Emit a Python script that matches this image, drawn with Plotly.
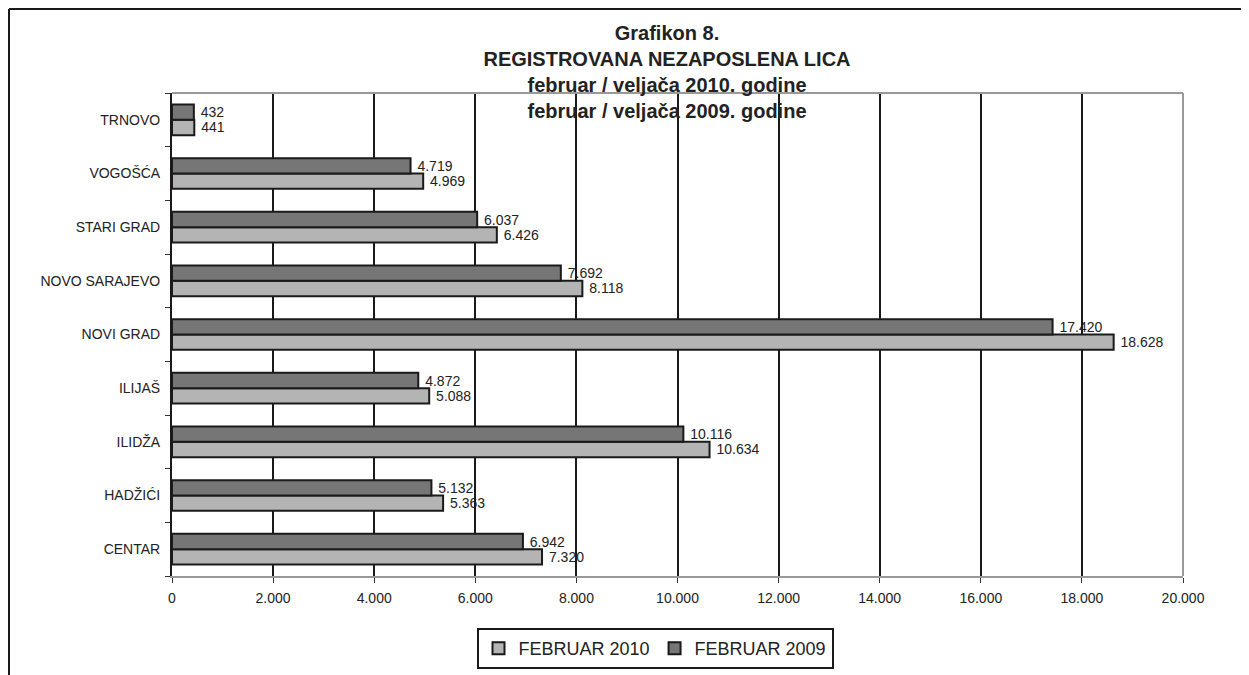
import plotly.graph_objects as go

categories = ["CENTAR", "HADŽIĆI", "ILIDŽA", "ILIJAŠ", "NOVI GRAD",
              "NOVO SARAJEVO", "STARI GRAD", "VOGOŠĆA", "TRNOVO"]
feb_2010 = [7320, 5363, 10634, 5088, 18628, 8118, 6426, 4969, 441]
feb_2009 = [6942, 5132, 10116, 4872, 17420, 7692, 6037, 4719, 432]
x_ticks = [0, 2000, 4000, 6000, 8000, 10000, 12000, 14000, 16000, 18000, 20000]

FONT = "Liberation Sans, Arial, sans-serif"
# page body has an 8px margin; figure sized to fill the rest of the window
W, H = 1241, 667
ML, MR, MT, MB = 164, 66, 85, 99
PW, PH = W - ML - MR, H - MT - MB

def px_x(px):
    return (px - ML) / PW

def px_y(py):
    return (H - MB - py) / PH

fig = go.Figure()
fig.add_trace(go.Bar(
    y=categories, x=feb_2010, orientation="h", name="FEBRUAR 2010",
    marker=dict(color="#b4b4b4", line=dict(color="#1a1a1a", width=2)),
    texttemplate="\u00a0%{x:,}", textposition="outside", constraintext="none",
    textfont=dict(family=FONT, size=14, color="#222"), cliponaxis=False,
))
fig.add_trace(go.Bar(
    y=categories, x=feb_2009, orientation="h", name="FEBRUAR 2009",
    marker=dict(color="#767676", line=dict(color="#1a1a1a", width=2)),
    texttemplate="\u00a0%{x:,}", textposition="outside", constraintext="none",
    textfont=dict(family=FONT, size=14, color="#222"), cliponaxis=False,
))

fig.update_layout(
    width=W, height=H,
    margin=dict(l=ML, r=MR, t=MT, b=MB, autoexpand=False),
    paper_bgcolor="white", plot_bgcolor="white",
    separators=",.",
    barmode="group", bargap=0.43, bargroupgap=0,
    font=dict(family=FONT, size=14, color="#222"),
    title=dict(
        text="<b>Grafikon 8.<br>REGISTROVANA NEZAPOSLENA LICA<br>"
             "februar / veljača 2010. godine<br>februar / veljača 2009. godine</b>",
        x=px_x(659), xanchor="center", xref="paper",
        y=1 - 32 / H, yanchor="top", yref="container",
        font=dict(family=FONT, size=20, color="#222"),
    ),
    xaxis=dict(
        range=[0, 20000], tickvals=x_ticks, tickformat=",",
        showgrid=True, gridcolor="#1a1a1a", gridwidth=2,
        zeroline=False, showline=True, linecolor="#999", linewidth=2,
        ticks="outside", ticklen=5, tickcolor="#333", tickwidth=1,
        ticklabelstandoff=3, automargin=False,
        tickfont=dict(family=FONT, size=14, color="#222"),
        fixedrange=True,
    ),
    yaxis=dict(
        categoryorder="array", categoryarray=categories,
        showgrid=False, zeroline=False,
        showline=True, linecolor="#1a1a1a", linewidth=2,
        ticks="outside", tickson="boundaries", ticklen=5, tickcolor="#333",
        ticklabelstandoff=7, automargin=False,
        tickfont=dict(family=FONT, size=14, color="#222"),
        fixedrange=True,
    ),
    legend=dict(
        orientation="h", x=px_x(647), xanchor="center",
        y=1 - 620 / H, yanchor="top", yref="container",
        bordercolor="#1a1a1a", borderwidth=2,
        font=dict(family=FONT, size=18, color="#222"),
        itemwidth=30, tracegroupgap=0,
    ),
    shapes=[
        dict(type="line", xref="paper", yref="paper", x0=0, x1=1, y0=1, y1=1,
             line=dict(color="#999", width=2)),
        dict(type="line", xref="paper", yref="paper", x0=1, x1=1, y0=0, y1=1,
             line=dict(color="#999", width=2)),
        dict(type="line", xref="paper", yref="paper",
             x0=px_x(1), x1=px_x(1), y0=px_y(H + 5), y1=px_y(1),
             line=dict(color="#1a1a1a", width=2)),
        dict(type="line", xref="paper", yref="paper",
             x0=px_x(1), x1=px_x(W + 5), y0=px_y(1), y1=px_y(1),
             line=dict(color="#1a1a1a", width=2)),
    ],
)

fig.write_html("out.html")
